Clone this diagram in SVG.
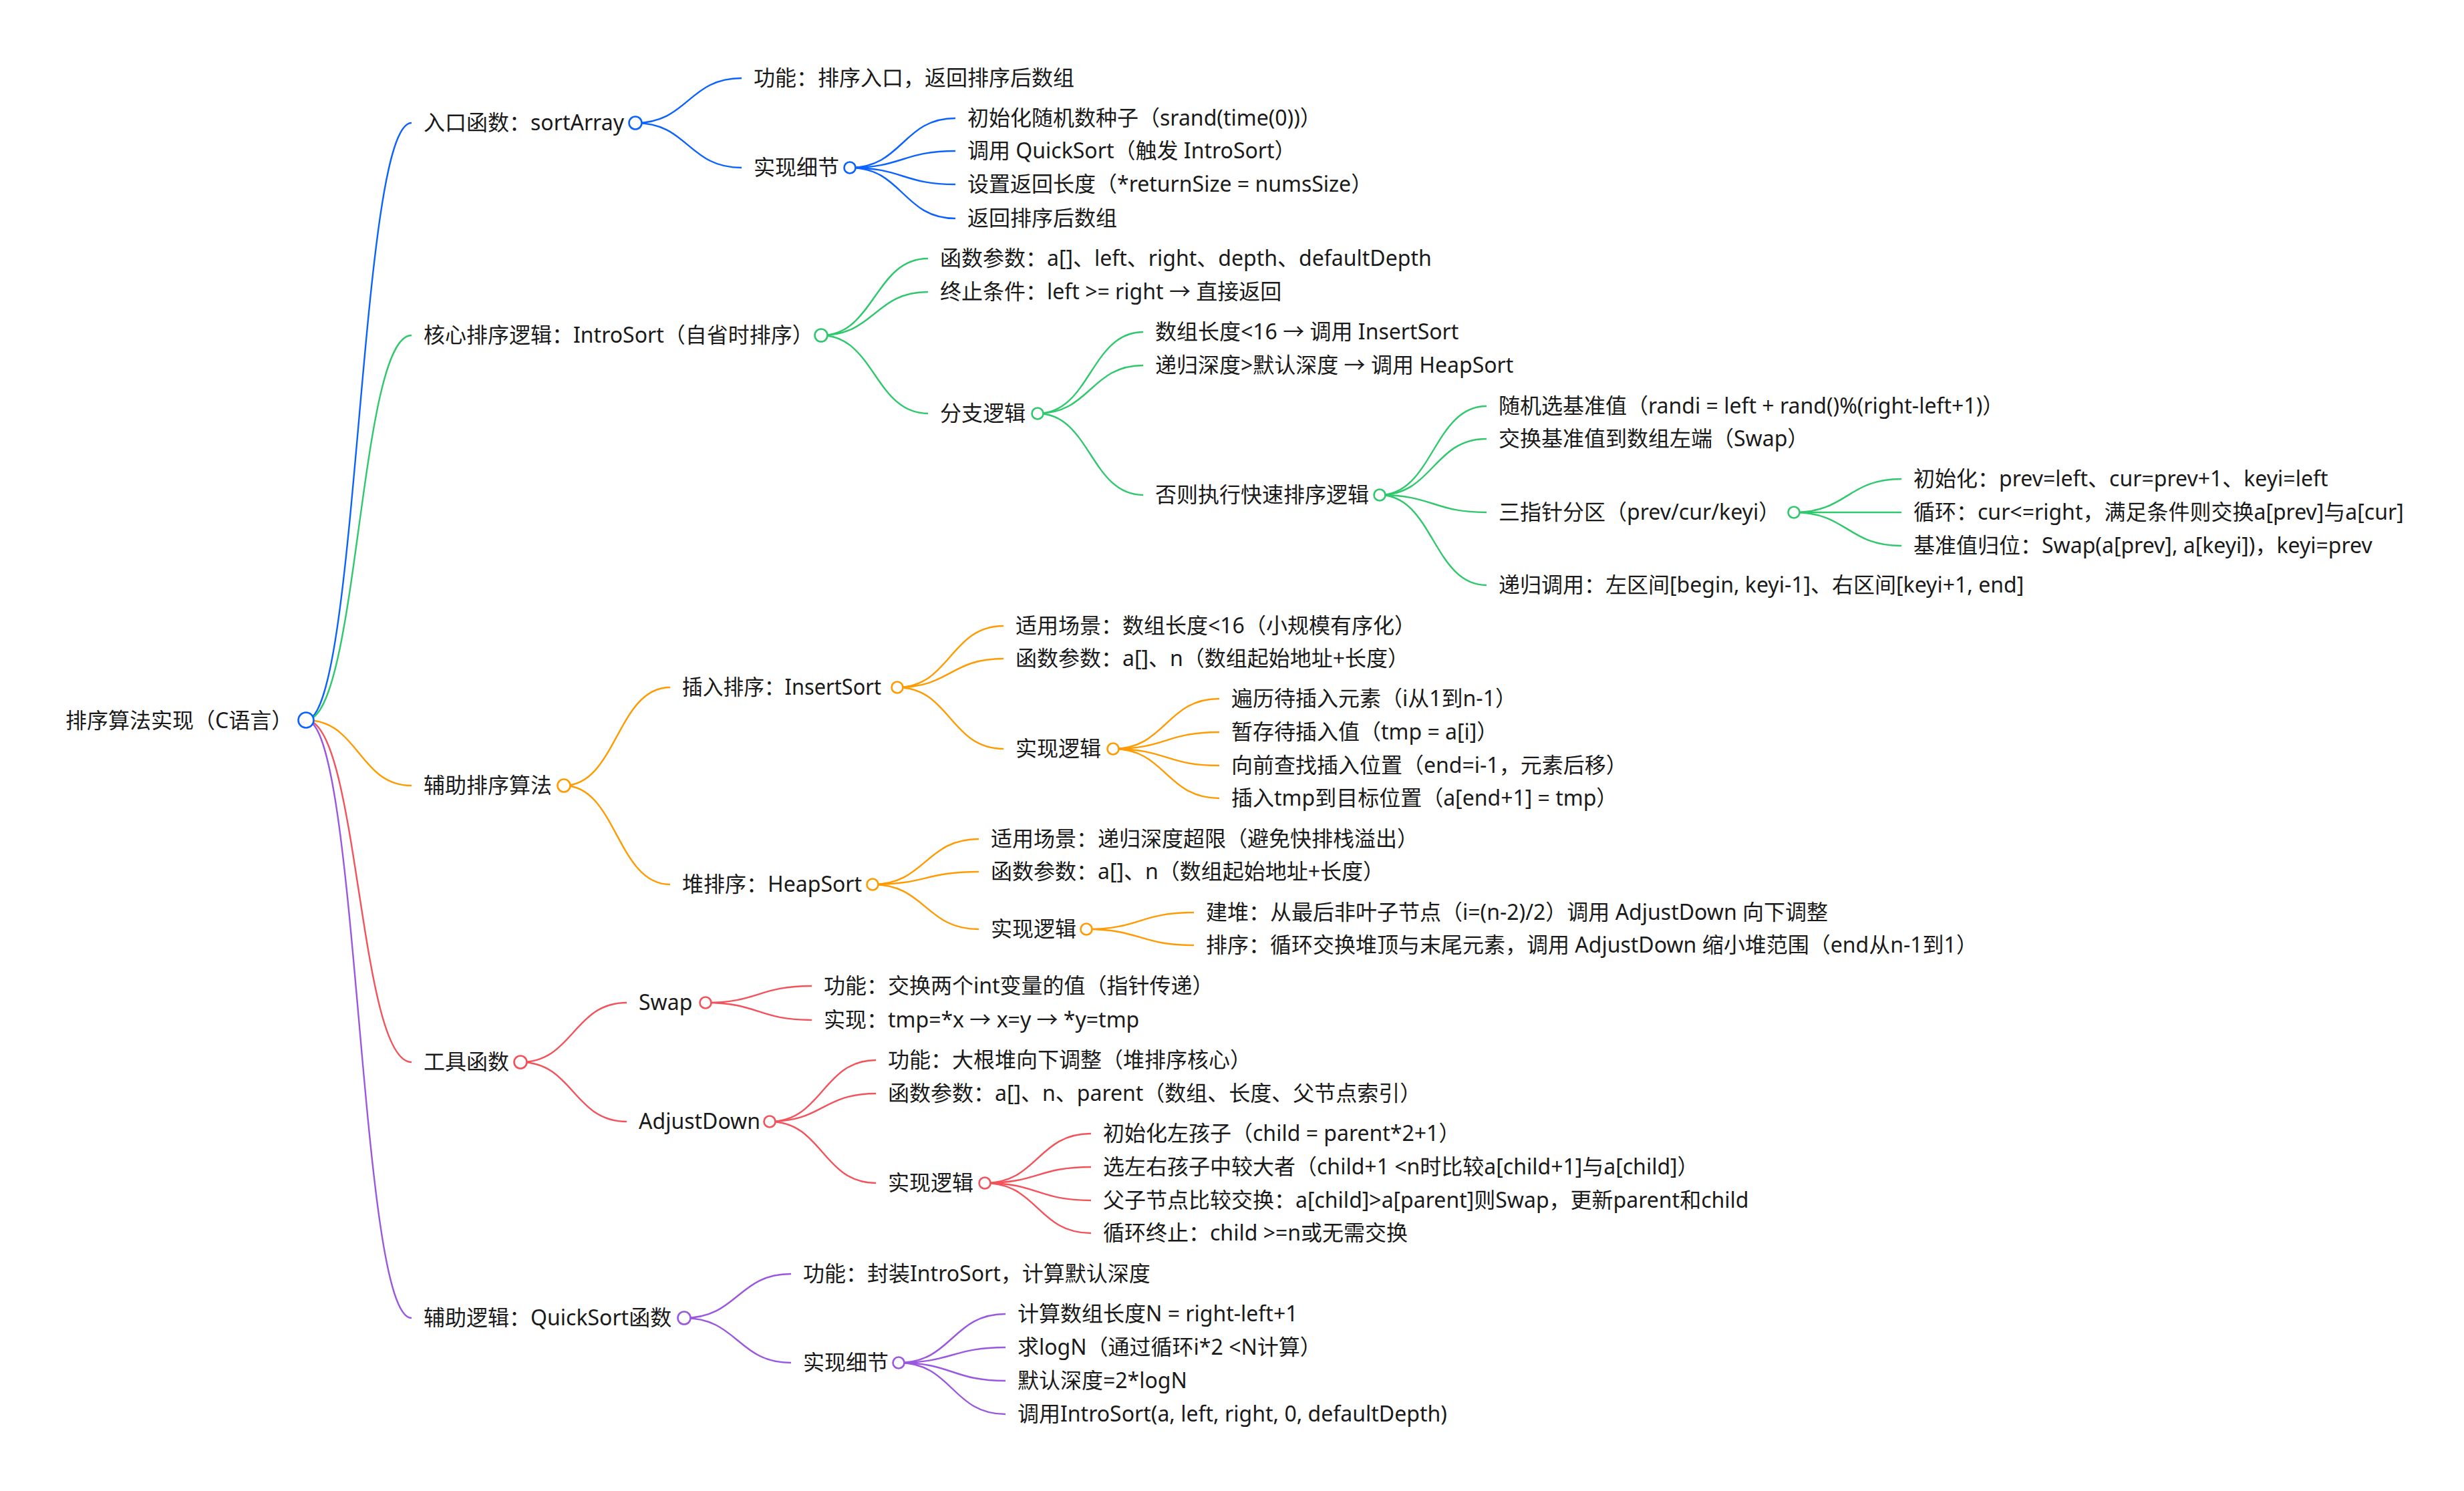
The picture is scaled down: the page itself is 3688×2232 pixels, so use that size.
<svg xmlns="http://www.w3.org/2000/svg" width="3688" height="2232" viewBox="0 0 3688 2232">
<style>
text{font-family:"Noto Sans","Noto Sans CJK SC",sans-serif;font-size:32px;fill:#1a1a1a}
path{fill:none;stroke-width:2.4}
circle{fill:#fff;stroke-width:2.6}
.b{stroke:#0b62ff}.g{stroke:#2fc86c}.o{stroke:#ff9a00}.r{stroke:#f4525a}.p{stroke:#9a57e0}
</style>
<rect width="3688" height="2232" fill="#fff"/>
<g id="connectors">
<path class="b" d="M458,1078 C537,1078 537,184 616,184"/>
<path class="g" d="M458,1078 C537,1078 537,502 616,502"/>
<path class="o" d="M458,1078 C537,1078 537,1176 616,1176"/>
<path class="r" d="M458,1078 C537,1078 537,1590 616,1590"/>
<path class="p" d="M458,1078 C537,1078 537,1973 616,1973"/>
<path class="b" d="M951,184 C1030,184 1030,117 1110,117"/>
<path class="b" d="M951,184 C1030,184 1030,251 1110,251"/>
<path class="b" d="M1272,251 C1351,251 1351,177 1430,177"/>
<path class="b" d="M1272,251 C1351,251 1351,226 1430,226"/>
<path class="b" d="M1272,251 C1351,251 1351,276 1430,276"/>
<path class="b" d="M1272,251 C1351,251 1351,327 1430,327"/>
<path class="g" d="M1229,502 C1309,502 1309,387 1389,387"/>
<path class="g" d="M1229,502 C1309,502 1309,437 1389,437"/>
<path class="g" d="M1229,502 C1309,502 1309,619 1389,619"/>
<path class="g" d="M1553,619 C1632,619 1632,497 1711,497"/>
<path class="g" d="M1553,619 C1632,619 1632,547 1711,547"/>
<path class="g" d="M1553,619 C1632,619 1632,741 1711,741"/>
<path class="g" d="M2065,741 C2145,741 2145,608 2225,608"/>
<path class="g" d="M2065,741 C2145,741 2145,657 2225,657"/>
<path class="g" d="M2065,741 C2145,741 2145,767 2225,767"/>
<path class="g" d="M2065,741 C2145,741 2145,876 2225,876"/>
<path class="g" d="M2685,767 C2765,767 2765,717 2846,717"/>
<path class="g" d="M2685,767 C2765,767 2765,767 2846,767"/>
<path class="g" d="M2685,767 C2765,767 2765,817 2846,817"/>
<path class="o" d="M844,1176 C923,1176 923,1029 1003,1029"/>
<path class="o" d="M844,1176 C923,1176 923,1324 1003,1324"/>
<path class="o" d="M1343,1029 C1422,1029 1422,937 1502,937"/>
<path class="o" d="M1343,1029 C1422,1029 1422,986 1502,986"/>
<path class="o" d="M1343,1029 C1422,1029 1422,1121 1502,1121"/>
<path class="o" d="M1666,1121 C1745,1121 1745,1046 1825,1046"/>
<path class="o" d="M1666,1121 C1745,1121 1745,1096 1825,1096"/>
<path class="o" d="M1666,1121 C1745,1121 1745,1146 1825,1146"/>
<path class="o" d="M1666,1121 C1745,1121 1745,1195 1825,1195"/>
<path class="o" d="M1306,1324 C1385,1324 1385,1256 1465,1256"/>
<path class="o" d="M1306,1324 C1385,1324 1385,1305 1465,1305"/>
<path class="o" d="M1306,1324 C1385,1324 1385,1391 1465,1391"/>
<path class="o" d="M1626,1391 C1706,1391 1706,1366 1787,1366"/>
<path class="o" d="M1626,1391 C1706,1391 1706,1415 1787,1415"/>
<path class="r" d="M779,1590 C858,1590 858,1501 938,1501"/>
<path class="r" d="M779,1590 C858,1590 858,1679 938,1679"/>
<path class="r" d="M1056,1501 C1135,1501 1135,1476 1215,1476"/>
<path class="r" d="M1056,1501 C1135,1501 1135,1527 1215,1527"/>
<path class="r" d="M1152,1679 C1231,1679 1231,1587 1311,1587"/>
<path class="r" d="M1152,1679 C1231,1679 1231,1637 1311,1637"/>
<path class="r" d="M1152,1679 C1231,1679 1231,1771 1311,1771"/>
<path class="r" d="M1474,1771 C1553,1771 1553,1697 1633,1697"/>
<path class="r" d="M1474,1771 C1553,1771 1553,1747 1633,1747"/>
<path class="r" d="M1474,1771 C1553,1771 1553,1797 1633,1797"/>
<path class="r" d="M1474,1771 C1553,1771 1553,1846 1633,1846"/>
<path class="p" d="M1024,1973 C1104,1973 1104,1907 1184,1907"/>
<path class="p" d="M1024,1973 C1104,1973 1104,2040 1184,2040"/>
<path class="p" d="M1345,2040 C1425,2040 1425,1967 1505,1967"/>
<path class="p" d="M1345,2040 C1425,2040 1425,2017 1505,2017"/>
<path class="p" d="M1345,2040 C1425,2040 1425,2067 1505,2067"/>
<path class="p" d="M1345,2040 C1425,2040 1425,2117 1505,2117"/>
</g>
<g id="root"><text x="98" y="1090">排序算法实现（C语言）</text><circle class="b" cx="458" cy="1078" r="11.5" stroke-width="3"/></g>
<g id="n-entry"><text x="634" y="195">入口函数：sortArray</text><circle class="b" cx="951" cy="184" r="9.5"/></g>
<g id="n-entry-func"><text x="1128" y="128">功能：排序入口，返回排序后数组</text></g>
<g id="n-entry-impl"><text x="1128" y="262">实现细节</text><circle class="b" cx="1272" cy="251" r="8.5"/></g>
<g id="n-entry-impl-1"><text x="1448" y="188">初始化随机数种子（srand(time(0))）</text></g>
<g id="n-entry-impl-2"><text x="1448" y="237">调用 QuickSort（触发 IntroSort）</text></g>
<g id="n-entry-impl-3"><text x="1448" y="287">设置返回长度（*returnSize = numsSize）</text></g>
<g id="n-entry-impl-4"><text x="1448" y="338">返回排序后数组</text></g>
<g id="n-intro"><text x="634" y="513">核心排序逻辑：IntroSort（自省时排序）</text><circle class="g" cx="1229" cy="502" r="9.5"/></g>
<g id="n-intro-params"><text x="1407" y="398">函数参数：a[]、left、right、depth、defaultDepth</text></g>
<g id="n-intro-stop"><text x="1407" y="448">终止条件：left &gt;= right → 直接返回</text></g>
<g id="n-intro-branch"><text x="1407" y="630">分支逻辑</text><circle class="g" cx="1553" cy="619" r="8.5"/></g>
<g id="n-branch-1"><text x="1729" y="508">数组长度&lt;16 → 调用 InsertSort</text></g>
<g id="n-branch-2"><text x="1729" y="558">递归深度&gt;默认深度 → 调用 HeapSort</text></g>
<g id="n-branch-3"><text x="1729" y="752">否则执行快速排序逻辑</text><circle class="g" cx="2065" cy="741" r="8.5"/></g>
<g id="n-qs-1"><text x="2243" y="619">随机选基准值（randi = left + rand()%(right-left+1)）</text></g>
<g id="n-qs-2"><text x="2243" y="668">交换基准值到数组左端（Swap）</text></g>
<g id="n-qs-3"><text x="2243" y="778">三指针分区（prev/cur/keyi）</text><circle class="g" cx="2685" cy="767" r="8.5"/></g>
<g id="n-part-1"><text x="2864" y="728">初始化：prev=left、cur=prev+1、keyi=left</text></g>
<g id="n-part-2"><text x="2864" y="778">循环：cur&lt;=right，满足条件则交换a[prev]与a[cur]</text></g>
<g id="n-part-3"><text x="2864" y="828">基准值归位：Swap(a[prev], a[keyi])，keyi=prev</text></g>
<g id="n-qs-4"><text x="2243" y="887">递归调用：左区间[begin, keyi-1]、右区间[keyi+1, end]</text></g>
<g id="n-aux"><text x="634" y="1187">辅助排序算法</text><circle class="o" cx="844" cy="1176" r="9.5"/></g>
<g id="n-ins"><text x="1021" y="1040" textLength="298" lengthAdjust="spacingAndGlyphs">插入排序：InsertSort</text><circle class="o" cx="1343" cy="1029" r="8.5"/></g>
<g id="n-ins-1"><text x="1520" y="948">适用场景：数组长度&lt;16（小规模有序化）</text></g>
<g id="n-ins-2"><text x="1520" y="997">函数参数：a[]、n（数组起始地址+长度）</text></g>
<g id="n-ins-3"><text x="1520" y="1132">实现逻辑</text><circle class="o" cx="1666" cy="1121" r="8.5"/></g>
<g id="n-ins-3-1"><text x="1843" y="1057">遍历待插入元素（i从1到n-1）</text></g>
<g id="n-ins-3-2"><text x="1843" y="1107">暂存待插入值（tmp = a[i]）</text></g>
<g id="n-ins-3-3"><text x="1843" y="1157">向前查找插入位置（end=i-1，元素后移）</text></g>
<g id="n-ins-3-4"><text x="1843" y="1206">插入tmp到目标位置（a[end+1] = tmp）</text></g>
<g id="n-heap"><text x="1021" y="1335">堆排序：HeapSort</text><circle class="o" cx="1306" cy="1324" r="8.5"/></g>
<g id="n-heap-1"><text x="1483" y="1267">适用场景：递归深度超限（避免快排栈溢出）</text></g>
<g id="n-heap-2"><text x="1483" y="1316">函数参数：a[]、n（数组起始地址+长度）</text></g>
<g id="n-heap-3"><text x="1483" y="1402">实现逻辑</text><circle class="o" cx="1626" cy="1391" r="8.5"/></g>
<g id="n-heap-3-1"><text x="1805" y="1377">建堆：从最后非叶子节点（i=(n-2)/2）调用 AdjustDown 向下调整</text></g>
<g id="n-heap-3-2"><text x="1805" y="1426">排序：循环交换堆顶与末尾元素，调用 AdjustDown 缩小堆范围（end从n-1到1）</text></g>
<g id="n-tools"><text x="634" y="1601">工具函数</text><circle class="r" cx="779" cy="1590" r="9.5"/></g>
<g id="n-swap"><text x="956" y="1512">Swap</text><circle class="r" cx="1056" cy="1501" r="8.5"/></g>
<g id="n-swap-1"><text x="1233" y="1487">功能：交换两个int变量的值（指针传递）</text></g>
<g id="n-swap-2"><text x="1233" y="1538">实现：tmp=*x → x=y → *y=tmp</text></g>
<g id="n-adj"><text x="956" y="1690">AdjustDown</text><circle class="r" cx="1152" cy="1679" r="8.5"/></g>
<g id="n-adj-1"><text x="1329" y="1598">功能：大根堆向下调整（堆排序核心）</text></g>
<g id="n-adj-2"><text x="1329" y="1648">函数参数：a[]、n、parent（数组、长度、父节点索引）</text></g>
<g id="n-adj-3"><text x="1329" y="1782">实现逻辑</text><circle class="r" cx="1474" cy="1771" r="8.5"/></g>
<g id="n-adj-3-1"><text x="1651" y="1708">初始化左孩子（child = parent*2+1）</text></g>
<g id="n-adj-3-2"><text x="1651" y="1758">选左右孩子中较大者（child+1 &lt;n时比较a[child+1]与a[child]）</text></g>
<g id="n-adj-3-3"><text x="1651" y="1808">父子节点比较交换：a[child]&gt;a[parent]则Swap，更新parent和child</text></g>
<g id="n-adj-3-4"><text x="1651" y="1857">循环终止：child &gt;=n或无需交换</text></g>
<g id="n-qsf"><text x="634" y="1984">辅助逻辑：QuickSort函数</text><circle class="p" cx="1024" cy="1973" r="9.5"/></g>
<g id="n-qsf-1"><text x="1202" y="1918">功能：封装IntroSort，计算默认深度</text></g>
<g id="n-qsf-2"><text x="1202" y="2051">实现细节</text><circle class="p" cx="1345" cy="2040" r="8.5"/></g>
<g id="n-qsf-2-1"><text x="1523" y="1978">计算数组长度N = right-left+1</text></g>
<g id="n-qsf-2-2"><text x="1523" y="2028">求logN（通过循环i*2 &lt;N计算）</text></g>
<g id="n-qsf-2-3"><text x="1523" y="2078">默认深度=2*logN</text></g>
<g id="n-qsf-2-4"><text x="1523" y="2128">调用IntroSort(a, left, right, 0, defaultDepth)</text></g>
</svg>
